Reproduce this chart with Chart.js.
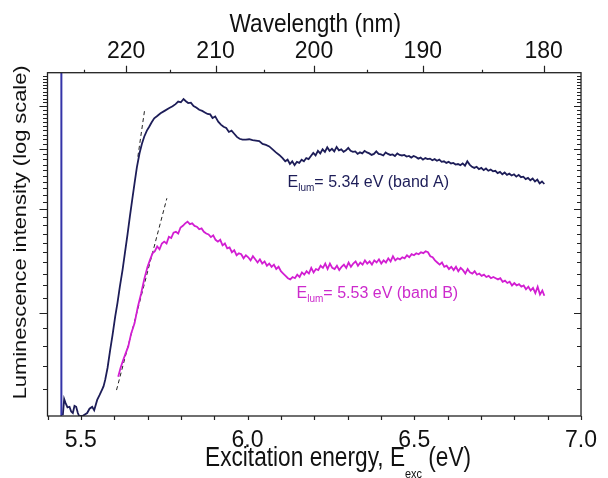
<!DOCTYPE html>
<html>
<head>
<meta charset="utf-8">
<script src="https://cdn.jsdelivr.net/npm/chart.js@4.4.1/dist/chart.umd.min.js"></script>
<style>
  html, body { margin: 0; padding: 0; background: #fff; }
  #wrap { width: 608px; height: 478px; }
</style>
</head>
<body>
<div id="wrap"><canvas id="chart"></canvas></div>
<script>
// band A (E_lum = 5.34 eV), excitation energy in eV
const energyA = [
  5.446, 5.450, 5.454, 5.460, 5.466, 5.471, 5.476, 5.481, 5.486, 5.491,
  5.495, 5.505, 5.512, 5.519, 5.526, 5.534, 5.540, 5.549, 5.556, 5.563,
  5.568, 5.573, 5.580, 5.588, 5.595, 5.603, 5.610, 5.617, 5.625, 5.632,
  5.640, 5.647, 5.654, 5.661, 5.668, 5.676, 5.683, 5.690, 5.698, 5.705,
  5.712, 5.720, 5.729, 5.739, 5.751,
  5.764, 5.775, 5.784, 5.792, 5.800, 5.808, 5.815, 5.822, 5.830, 5.838,
  5.846, 5.855, 5.864, 5.872, 5.880, 5.888, 5.895, 5.903, 5.912, 5.920,
  5.928, 5.936, 5.944, 5.952, 5.960, 5.968, 5.976, 5.985, 5.995, 6.005,
  6.015, 6.025, 6.035, 6.045, 6.055, 6.065, 6.075, 6.085, 6.095, 6.105,
  6.113,
  6.120, 6.127, 6.134, 6.141, 6.148, 6.155, 6.162, 6.169, 6.176, 6.183,
  6.190, 6.197, 6.204, 6.211, 6.218, 6.225, 6.232, 6.239, 6.246, 6.253,
  6.260, 6.267, 6.274, 6.281, 6.288, 6.295, 6.302, 6.309, 6.316, 6.323,
  6.330, 6.337, 6.344, 6.351, 6.358, 6.365, 6.372, 6.379, 6.386, 6.393,
  6.400, 6.407, 6.414, 6.421, 6.428, 6.435, 6.442, 6.449, 6.456, 6.463,
  6.470, 6.477, 6.484, 6.491, 6.498, 6.505, 6.512, 6.519, 6.526, 6.533,
  6.540, 6.547, 6.554, 6.561, 6.568, 6.575, 6.582, 6.589, 6.596, 6.603,
  6.610, 6.617, 6.624, 6.631, 6.638, 6.645, 6.652, 6.659, 6.666, 6.673,
  6.680, 6.687, 6.694, 6.701, 6.708, 6.715, 6.722, 6.729, 6.736, 6.743,
  6.750, 6.757, 6.764, 6.771, 6.778, 6.785, 6.792, 6.799, 6.806, 6.813,
  6.820, 6.827, 6.834, 6.841, 6.848, 6.855, 6.862, 6.869, 6.876, 6.883,
  6.890
];
const intensityA = [
  5.03, 5.6, 5.46, 5.3, 5.32, 5.15, 5.10, 5.35, 5.32, 5.1,
  5.0, 5.0, 5.05, 5.10, 5.25, 5.32, 5.2, 5.57, 5.75, 5.95,
  6.1, 6.37, 6.9, 7.79, 8.6, 9.73, 10.7, 11.9, 13.3, 14.89,
  16.9, 19.03, 21.3, 23.82, 26.5, 29.12, 31.0, 32.55, 33.9, 34.81,
  35.8, 36.83, 37.4, 38.08, 38.7,
  39.4, 39.9, 40.5, 41.2, 41.0, 41.9, 41.3, 40.8, 40.9, 40.0,
  39.6, 39.0, 38.7, 38.3, 37.9, 37.8, 36.9, 37.3, 36.0, 35.3,
  34.8, 34.5, 33.6, 33.9, 33.2, 32.5, 32.1, 31.9, 31.9, 32.0,
  31.8, 31.7, 31.6, 31.0, 30.8, 30.5, 29.9, 29.3, 28.8, 28.2,
  27.6,
  27.9, 27.1, 27.6, 26.9, 27.5, 27.3, 27.9, 27.6, 28.2, 28.0,
  28.6, 29.2, 28.7, 29.6, 29.1, 29.9, 29.4, 30.3, 29.6, 30.0,
  29.5, 30.4, 29.7, 29.9, 29.4, 29.7, 30.2, 29.6, 29.4, 29.5,
  29.0, 29.3, 29.1, 29.6, 29.3, 29.1, 28.8, 29.0, 29.5, 29.0,
  28.9, 28.7, 29.3, 29.0, 28.8, 28.9, 28.6, 29.1, 28.8, 28.7,
  28.8, 28.5, 28.6, 28.3, 28.6, 28.4, 28.1, 28.3, 27.9, 28.2,
  28.0, 28.1, 27.8, 28.0, 27.7, 27.9, 27.5, 27.6, 27.3, 27.5,
  27.2, 27.3, 27.0, 27.1, 26.9, 27.2, 26.8, 27.6, 27.0, 26.6,
  26.4, 26.6, 26.2, 26.4, 26.0, 26.3, 25.9, 26.1, 25.8, 25.9,
  25.5, 25.7, 25.3, 25.6, 25.2, 25.4, 25.1, 25.3, 24.9, 25.2,
  24.8, 24.9, 24.5, 24.7, 24.3, 24.6, 24.1, 24.4, 23.8, 24.1,
  23.7
];

// band B (E_lum = 5.53 eV)
const energyB = [
  5.612, 5.619, 5.627, 5.634, 5.642, 5.651, 5.661, 5.671, 5.681, 5.690,
  5.700, 5.708, 5.715, 5.722, 5.729, 5.736, 5.743, 5.750, 5.757, 5.764,
  5.771, 5.778, 5.785, 5.792, 5.799, 5.806, 5.813, 5.820, 5.827, 5.834,
  5.841, 5.848, 5.855, 5.862, 5.869, 5.876, 5.883, 5.890, 5.897, 5.904,
  5.911, 5.918, 5.925, 5.932, 5.939, 5.946, 5.953, 5.960, 5.967, 5.974,
  5.981, 5.988, 5.995, 6.002, 6.009, 6.016, 6.023, 6.030, 6.037, 6.044,
  6.051, 6.058, 6.065, 6.072, 6.079, 6.086, 6.093, 6.100, 6.107, 6.114,
  6.121, 6.128, 6.135, 6.142, 6.149, 6.156, 6.163, 6.170, 6.177, 6.184,
  6.191, 6.198, 6.205, 6.212, 6.219, 6.226, 6.233, 6.240, 6.247, 6.254,
  6.261, 6.268, 6.275, 6.282, 6.289, 6.296, 6.303, 6.310, 6.317, 6.324,
  6.331, 6.338, 6.345, 6.352, 6.359, 6.366, 6.373, 6.380, 6.387, 6.394,
  6.401, 6.408, 6.415, 6.422, 6.429, 6.436, 6.443, 6.450, 6.457, 6.464,
  6.471, 6.478, 6.485, 6.492, 6.499, 6.506, 6.513, 6.520, 6.527, 6.534,
  6.541, 6.548, 6.555, 6.562, 6.569, 6.576, 6.583, 6.590, 6.597, 6.604,
  6.611, 6.618, 6.625, 6.632, 6.639, 6.646, 6.653, 6.660, 6.667, 6.674,
  6.681, 6.688, 6.695, 6.702, 6.709, 6.716, 6.723, 6.730, 6.737, 6.744,
  6.751, 6.758, 6.765, 6.772, 6.779, 6.786, 6.793, 6.800, 6.807, 6.814,
  6.821, 6.828, 6.835, 6.842, 6.849, 6.856, 6.863, 6.870, 6.877, 6.884,
  6.890
];
const intensityB = [
  6.51, 6.9, 7.28, 7.6, 7.96, 8.7, 9.31, 10.4, 11.39, 12.5,
  13.61, 14.3, 14.89, 15.1, 15.6, 15.3, 15.9, 16.1, 15.9, 16.64,
  16.5, 17.1, 17.2, 17.0, 17.7, 17.9, 18.2, 18.4, 18.1, 18.2,
  17.9, 17.8, 17.5, 17.6, 17.2, 17.0, 16.9, 16.6, 16.8, 16.3,
  16.1, 16.3, 15.7, 15.9, 15.4, 15.5, 15.0, 15.2, 14.7, 14.9,
  14.8, 14.4, 14.7, 14.5, 14.2, 14.6, 14.3, 14.0, 14.3, 13.9,
  14.1, 13.7, 13.9, 13.6, 13.8, 13.4, 13.6, 13.2, 13.0, 12.8,
  12.6, 12.5, 12.7, 12.6, 12.9, 12.7, 13.1, 12.9, 13.2, 13.0,
  13.5, 13.1, 13.4, 13.3, 13.7, 13.5, 13.9, 13.4, 13.9, 13.5,
  13.4, 13.7, 13.3, 13.6, 13.8, 13.5, 14.0, 13.6, 13.9, 14.1,
  13.7, 14.0, 13.8, 14.2, 13.9, 14.1, 13.8, 14.2, 14.0, 14.3,
  13.9, 14.2, 14.0, 14.4, 14.1, 14.6, 14.2, 14.4, 14.3, 14.5,
  14.4, 14.7, 14.5, 14.8, 14.7, 14.9, 14.8, 15.0, 14.9, 15.1,
  15.0, 14.6, 14.5, 14.2, 14.0, 13.8, 14.0, 13.6, 13.7, 13.4,
  13.6, 13.3, 13.6, 13.2, 13.5, 13.3, 13.0, 13.4, 13.1, 13.0,
  13.2, 12.9, 13.0, 12.8, 12.9, 12.7, 12.8, 12.6, 12.7, 12.6,
  12.5, 12.6, 12.3, 12.4, 12.2, 12.3, 12.0, 12.2, 12.0, 12.1,
  11.9, 12.0, 11.7, 11.9, 11.6, 11.8, 11.4, 11.9, 11.3, 11.6,
  11.2
];

// stray light spike and onset tangents
const spikeEnergy = [5.4416, 5.4416];
const spikeIntensity = [5, 50];
const tangentAEnergy = [5.671, 5.692];
const tangentAIntensity = [28.46, 39.38];
const tangentBEnergy = [5.607, 5.758];
const tangentBIntensity = [5.95, 21.54];

// axes
const energyLabels = [5.5, 6.0, 6.5, 7.0];
const energyTicks = [5.4, 5.5, 5.6, 5.7, 5.8, 5.9, 6.0, 6.1, 6.2, 6.3, 6.4, 6.5, 6.6, 6.7, 6.8, 6.9, 7.0];
const wavelengthLabels = [220, 210, 200, 190, 180];
const wavelengthMinor = [225, 215, 205, 195, 185];
const intensityTicks = [6, 7, 8, 9, 10, 11, 12, 13, 14, 15, 16, 17, 18, 19, 20, 21, 22, 23, 24, 25, 26, 27, 28, 29, 30, 31, 32, 33, 34, 35, 36, 37, 38, 39, 40, 41, 42, 43, 44, 45, 46, 47, 48, 49];
const intensityMajor = [10, 20, 30, 40];

const HC = 1239.84; // eV*nm
const TICK_FONT = "'Liberation Sans Narrow', 'Liberation Sans', Arial, sans-serif";
const TEXT_FONT = "'Liberation Sans', Arial, sans-serif";

function pts(xs, ys) {
  return xs.map((v, i) => ({ x: v, y: ys[i] }));
}

const frame = {
  id: 'frame',
  afterDraw(chart) {
    const ctx = chart.ctx;
    const a = chart.chartArea;
    const xs = chart.scales.x;
    const ys = chart.scales.y;
    ctx.save();
    ctx.strokeStyle = '#222';
    ctx.lineWidth = 1.3;
    ctx.strokeRect(a.left, a.top, a.right - a.left, a.bottom - a.top);

    ctx.lineWidth = 1.2;
    ctx.beginPath();
    energyTicks.forEach(v => {
      const px = Math.round(xs.getPixelForValue(v)) + 0.5;
      ctx.moveTo(px, a.bottom);
      ctx.lineTo(px, a.bottom + 4);
    });
    wavelengthLabels.forEach(l => {
      const px = Math.round(xs.getPixelForValue(HC / l)) + 0.5;
      ctx.moveTo(px, a.top);
      ctx.lineTo(px, a.top - 7);
    });
    wavelengthMinor.forEach(l => {
      const px = Math.round(xs.getPixelForValue(HC / l)) + 0.5;
      ctx.moveTo(px, a.top);
      ctx.lineTo(px, a.top - 3);
    });
    intensityTicks.forEach(v => {
      const py = Math.round(ys.getPixelForValue(v)) + 0.5;
      const major = intensityMajor.includes(v);
      ctx.moveTo(a.left, py);
      ctx.lineTo(a.left - (major ? 8 : 4.5), py);
      ctx.moveTo(a.right, py);
      ctx.lineTo(a.right - (major ? 7 : 4), py);
    });
    ctx.stroke();

    // axis titles
    ctx.fillStyle = '#111';
    ctx.textBaseline = 'alphabetic';

    ctx.save();
    ctx.translate((a.left + a.right) / 2 + 1, 31.5);
    ctx.scale(0.87, 1);
    ctx.font = '26px ' + TEXT_FONT;
    ctx.textAlign = 'center';
    ctx.fillText('Wavelength (nm)', 0, 0);
    ctx.restore();

    ctx.save();
    ctx.translate(25.5, (a.top + a.bottom) / 2 - 12);
    ctx.rotate(-Math.PI / 2);
    ctx.scale(1.15, 1);
    ctx.font = '19px ' + TEXT_FONT;
    ctx.textAlign = 'center';
    ctx.fillText('Luminescence intensity (log scale)', 0, 0);
    ctx.restore();

    ctx.save();
    ctx.translate(205, 466);
    ctx.scale(0.84, 1);
    ctx.textAlign = 'left';
    ctx.font = '27px ' + TEXT_FONT;
    let w = 0;
    ctx.fillText('Excitation energy, E', w, 0);
    w += ctx.measureText('Excitation energy, E').width;
    ctx.font = '13px ' + TEXT_FONT;
    ctx.fillText('exc', w, 12);
    w += ctx.measureText('exc').width;
    ctx.font = '27px ' + TEXT_FONT;
    ctx.fillText(' (eV)', w, 0);
    ctx.restore();

    // curve labels
    chart.options.plugins.frame.labels.forEach(lb => {
      let px = xs.getPixelForValue(lb.x);
      const py = ys.getPixelForValue(lb.y);
      ctx.fillStyle = lb.color;
      ctx.textAlign = 'left';
      ctx.font = '16px ' + TEXT_FONT;
      ctx.fillText('E', px, py);
      px += ctx.measureText('E').width;
      ctx.font = '10px ' + TEXT_FONT;
      ctx.fillText('lum', px, py + 4);
      px += ctx.measureText('lum').width;
      ctx.font = '16px ' + TEXT_FONT;
      ctx.fillText(lb.text, px, py);
    });
    ctx.restore();
  }
};

new Chart(document.getElementById('chart'), {
  type: 'line',
  data: {
    datasets: [
      {
        label: 'spike',
        data: pts(spikeEnergy, spikeIntensity),
        borderColor: '#3434a8',
        borderWidth: 2,
        pointRadius: 0
      },
      {
        label: 'band A',
        data: pts(energyA, intensityA),
        borderColor: '#1d1d58',
        borderWidth: 1.8,
        pointRadius: 0,
        tension: 0
      },
      {
        label: 'band B',
        data: pts(energyB, intensityB),
        borderColor: '#d21ed2',
        borderWidth: 1.8,
        pointRadius: 0,
        tension: 0
      },
      {
        label: 'tangent A',
        data: pts(tangentAEnergy, tangentAIntensity),
        borderColor: '#222',
        borderWidth: 1,
        borderDash: [4, 3],
        pointRadius: 0
      },
      {
        label: 'tangent B',
        data: pts(tangentBEnergy, tangentBIntensity),
        borderColor: '#222',
        borderWidth: 1,
        borderDash: [4, 3],
        pointRadius: 0
      }
    ]
  },
  options: {
    responsive: true,
    maintainAspectRatio: false,
    animation: false,
    layout: { padding: { left: 0, right: 13.7, top: 0, bottom: 0 } },
    plugins: {
      legend: { display: false },
      tooltip: { enabled: false },
      frame: {
        labels: [
          { text: '= 5.34 eV (band A)', x: 6.120, y: 23.28, color: '#1d1d58' },
          { text: '= 5.53 eV (band B)', x: 6.147, y: 11.01, color: '#cc2acc' }
        ]
      }
    },
    scales: {
      x: {
        type: 'linear',
        position: 'bottom',
        min: 5.4,
        max: 7.0,
        grid: { display: false, drawTicks: false },
        border: { display: false },
        afterBuildTicks: s => { s.ticks = energyLabels.map(v => ({ value: v })); },
        afterFit: s => { s.height = 62; },
        ticks: {
          autoSkip: false,
          maxRotation: 0,
          padding: 11,
          color: '#111',
          font: { family: TICK_FONT, size: 23 },
          callback: v => v.toFixed(1)
        }
      },
      x2: {
        type: 'linear',
        position: 'top',
        min: 5.4,
        max: 7.0,
        grid: { display: false, drawTicks: false },
        border: { display: false },
        afterBuildTicks: s => { s.ticks = wavelengthLabels.map(l => ({ value: HC / l })); },
        afterFit: s => { s.height = 72.7; },
        ticks: {
          autoSkip: false,
          maxRotation: 0,
          padding: 7,
          color: '#111',
          font: { family: TICK_FONT, size: 23 },
          callback: (v, i) => String(wavelengthLabels[i])
        }
      },
      y: {
        type: 'logarithmic',
        position: 'left',
        min: 5,
        max: 50,
        grid: { display: false, drawTicks: false },
        border: { display: false },
        ticks: { display: false },
        afterFit: s => { s.width = 47.5; }
      }
    }
  },
  plugins: [frame]
});
</script>
</body>
</html>
